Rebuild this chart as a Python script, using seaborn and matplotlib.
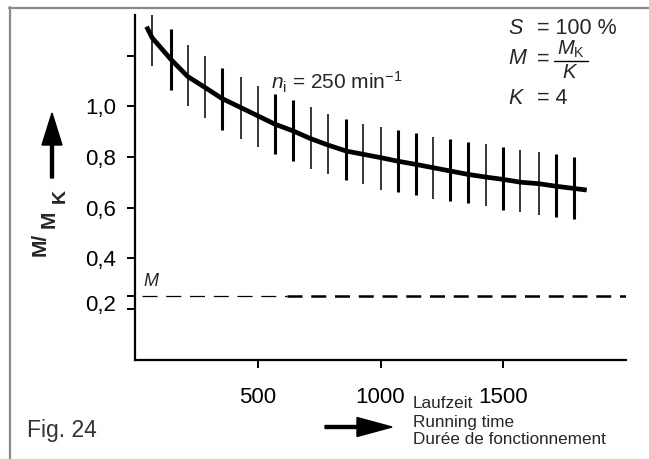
import seaborn as sns
import matplotlib.pyplot as plt
from matplotlib.patches import FancyArrow
from matplotlib.transforms import ScaledTranslation

# running time of the bars and of the mean curve
bar_t = [70, 145, 215, 285, 355, 430, 500, 570, 645, 715, 785, 860, 930,
         1000, 1070, 1145, 1215, 1285, 1355, 1430, 1500, 1570, 1645, 1715, 1790]
bar_hi = [1.364, 1.305, 1.242, 1.197, 1.149, 1.114, 1.081, 1.050, 1.025, 0.995,
          0.968, 0.949, 0.929, 0.918, 0.905, 0.896, 0.879, 0.869, 0.859, 0.850,
          0.839, 0.827, 0.819, 0.810, 0.801]
bar_lo = [1.160, 1.065, 0.999, 0.952, 0.906, 0.872, 0.840, 0.810, 0.784, 0.753,
          0.731, 0.708, 0.691, 0.671, 0.661, 0.648, 0.634, 0.625, 0.616, 0.605,
          0.592, 0.582, 0.572, 0.563, 0.555]

curve_t = [47, 70, 145, 215, 285, 355, 430, 500, 570, 645, 715, 785, 860, 930,
           1000, 1070, 1145, 1215, 1285, 1355, 1430, 1500, 1570, 1645, 1715, 1790, 1840]
curve_m = [1.314, 1.27, 1.186, 1.117, 1.074, 1.030, 0.995, 0.962, 0.929, 0.902,
           0.872, 0.847, 0.823, 0.810, 0.797, 0.783, 0.770, 0.757, 0.744, 0.731,
           0.720, 0.711, 0.700, 0.694, 0.684, 0.675, 0.669]

m_level = 0.25  # M = M_K / K with K = 4

x_ticks = [500, 1000, 1500]
y_ticks = [0.2, 0.25, 0.4, 0.6, 0.8, 1.0, 1.2]
y_labels = ["0,2", "", "0,4", "0,6", "0,8", "1,0", ""]

# thick / thin look of the scanned bars
bar_lw = [1.1, 2.2, 1.1, 1.1, 2.2, 1.1, 1.1, 2.2, 2.2, 1.1, 1.1, 2.2, 1.1,
          1.1, 2.2, 2.2, 1.1, 2.2, 2.2, 1.1, 2.2, 1.1, 1.1, 2.2, 2.2]

sns.set_theme(style="white")
plt.rcParams['font.family'] = ['Liberation Sans', 'DejaVu Sans']
plt.rcParams['mathtext.fontset'] = 'custom'
plt.rcParams['mathtext.rm'] = 'Liberation Sans'
plt.rcParams['mathtext.it'] = 'Liberation Sans:italic'
plt.rcParams['mathtext.bf'] = 'Liberation Sans:bold'

W, H = 649, 459
fig = plt.figure(figsize=(W / 100, H / 100), dpi=100)
fig.patch.set_facecolor("white")

ax = fig.add_axes([135 / W, 1 - 359.5 / H, (626 - 135) / W, (359.5 - 15) / H])
ax.set_facecolor("none")

sns.lineplot(x=curve_t, y=curve_m, ax=ax, color="black", linewidth=3.4,
             solid_capstyle="butt")
for t, lo, hi, lw in zip(bar_t, bar_lo, bar_hi, bar_lw):
    ax.vlines(t, lo, hi, colors="black", linewidth=lw)

ax.hlines(m_level, 30, 620, colors="black", linewidth=0.9,
          linestyles=(0, (12, 7)))
ax.hlines(m_level, 620, 2000, colors="black", linewidth=1.8,
          linestyles=(0, (6, 3.5)))

ax.set_xlim(0, 2000)
ax.set_ylim(0, 1.36)
ax.set_xticks(x_ticks)
ax.set_xticklabels([str(v) for v in x_ticks])
ax.set_yticks(y_ticks)
ax.set_yticklabels(y_labels)
ax.tick_params(axis="both", direction="out", length=5.8, width=1.4,
               color="black", labelsize=16, labelcolor="black",
               bottom=True, left=True)
ax.tick_params(axis="x", pad=14)
ax.tick_params(axis="y", pad=8)
ax.set_xlabel("")
ax.set_ylabel("")
for side in ["top", "right"]:
    ax.spines[side].set_visible(False)
for side in ["left", "bottom"]:
    ax.spines[side].set_color("black")
    ax.spines[side].set_linewidth(1.6)

# the 0,2 label sits a little above its tick in the original
lab = ax.get_yticklabels()[0]
lab.set_transform(lab.get_transform() + ScaledTranslation(0, 0.06, fig.dpi_scale_trans))

# overlay in pixel coordinates for the annotations
ov = fig.add_axes([0, 0, 1, 1], zorder=5)
ov.set_xlim(0, W)
ov.set_ylim(H, 0)
ov.axis("off")
ov.patch.set_visible(False)

# scan frame
ov.plot([9, W + 5], [7.5, 7.5], color="#8a8a8a", linewidth=1.6, clip_on=False)
ov.plot([9.5, 9.5], [7, H + 5], color="#8a8a8a", linewidth=1.6, clip_on=False)

# axis arrows
ov.add_patch(FancyArrow(52, 178, 0, -65, width=3, head_width=20, head_length=32,
                        length_includes_head=True, color="black"))
ov.add_patch(FancyArrow(325, 427, 67, 0, width=3, head_width=19, head_length=35,
                        length_includes_head=True, color="black"))

# y label M/M_K
ov.text(40, 244, "M/", rotation=90, fontsize=15, fontweight="bold",
        ha="center", va="center")
ov.text(49, 219, "M", rotation=90, fontsize=15, fontweight="bold",
        ha="center", va="center")
ov.text(60, 196, "K", rotation=90, fontsize=14, fontweight="bold",
        ha="center", va="center")

# x label
ov.text(413, 404, "Laufzeit", fontsize=12.3, ha="left", va="center")
ov.text(413, 422, "Running time", fontsize=12.3, ha="left", va="center")
ov.text(413, 439, "Durée de fonctionnement", fontsize=12.3, ha="left", va="center")

ov.text(27, 431, "Fig. 24", fontsize=16.5, color="#333333", ha="left", va="center")

ov.text(271, 82, r"$n_\mathrm{i}$ = 250 min$^{-1}$", fontsize=15,
        ha="left", va="center")
ov.text(143, 281, "M", fontsize=13, style="italic", ha="left", va="center")

# legend block top right
ov.text(508, 28, "S", fontsize=15.5, style="italic", ha="left", va="center")
ov.text(537, 28, "= 100 %", fontsize=15.5, ha="left", va="center")
ov.text(508, 59, "M", fontsize=15.5, style="italic", ha="left", va="center")
ov.text(537, 59, "=", fontsize=15.5, ha="left", va="center")
ov.text(571, 49, r"$M_\mathrm{K}$", fontsize=14.5, ha="center", va="center")
ov.plot([554, 588], [61, 61], color="black", linewidth=1)
ov.text(569, 73, "K", fontsize=14.5, style="italic", ha="center", va="center")
ov.text(508, 98, "K", fontsize=15.5, style="italic", ha="left", va="center")
ov.text(537, 98, "= 4", fontsize=15.5, ha="left", va="center")

fig.savefig("out.png", dpi=100)
